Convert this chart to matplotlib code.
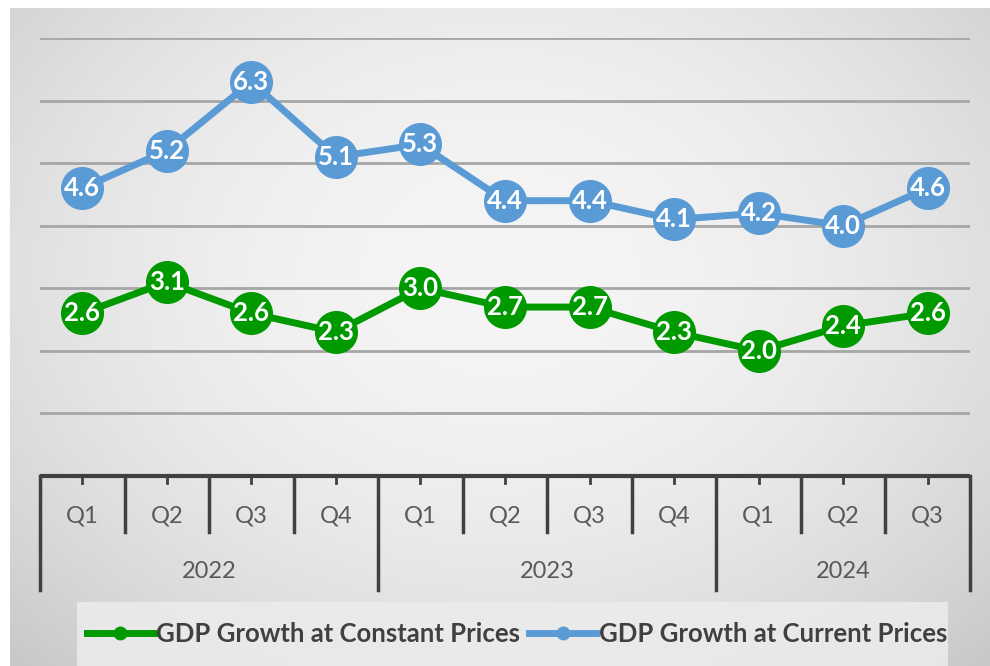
import matplotlib
matplotlib.use("Agg")
import matplotlib.pyplot as plt
import numpy as np
from matplotlib.lines import Line2D
from matplotlib.patches import Rectangle
import matplotlib.transforms as mtransforms

plt.rcParams['font.family'] = ['Lato', 'DejaVu Sans']

# 数据
quarters = ['Q1', 'Q2', 'Q3', 'Q4', 'Q1', 'Q2', 'Q3', 'Q4', 'Q1', 'Q2', 'Q3']
years = ['2022', '2023', '2024']
year_counts = [4, 4, 3]
constant_prices = [2.6, 3.1, 2.6, 2.3, 3.0, 2.7, 2.7, 2.3, 2.0, 2.4, 2.6]
current_prices = [4.6, 5.2, 6.3, 5.1, 5.3, 4.4, 4.4, 4.1, 4.2, 4.0, 4.6]

GREEN = '#009a00'
BLUE = '#5b9bd5'
TEXT = '#595959'
AXIS = '#404040'

W, H = 990, 666
fig = plt.figure(figsize=(W / 100, H / 100), dpi=100)
fig.patch.set_facecolor('white')

# 背景渐变
bg = fig.add_axes([10 / W, 0, 1 - 10 / W, 1 - 8 / H], zorder=-10)
gx, gy = np.meshgrid(np.linspace(-1, 1, 400), np.linspace(-1, 1, 300))
r = np.sqrt((gx / 1.05) ** 2 + ((gy + 0.2) / 1.2) ** 2)
shade = 0.96 - 0.13 * np.clip(r, 0, 1.4) ** 2 / 1.4
bg.imshow(np.dstack([shade] * 3), aspect='auto', extent=[0, 1, 0, 1], origin='upper')
bg.set_axis_off()

# 图例底框
fig.patches.append(Rectangle((77 / W, 0), (948 - 77) / W, (666 - 602) / H,
                             transform=fig.transFigure, facecolor='#ececec',
                             edgecolor='none', alpha=0.85, zorder=-5))

ax = fig.add_axes([40 / W, 1 - 476 / H, 930 / W, 438 / H])
ax.patch.set_alpha(0)
x = np.arange(len(quarters))
ax.set_xlim(-0.5, len(quarters) - 0.5)
ax.set_ylim(0, 7)

for v in range(1, 8):
    ax.axhline(v, color='#a6a6a6', lw=2, zorder=1)

for s in ax.spines.values():
    s.set_visible(False)
ax.set_xticks([])
ax.set_yticks([])

ax.plot(x, constant_prices, '-o', color=GREEN, lw=5, markersize=31, zorder=3,
        markeredgewidth=0)
ax.plot(x, current_prices, '-o', color=BLUE, lw=5, markersize=31, zorder=3,
        markeredgewidth=0)

for xi, v in zip(x, constant_prices):
    ax.text(xi, v, f'{v:.1f}', ha='center', va='center', color='white',
            fontsize=18.5, fontweight='bold', zorder=5)
for xi, v in zip(x, current_prices):
    ax.text(xi, v, f'{v:.1f}', ha='center', va='center', color='white',
            fontsize=18.5, fontweight='bold', zorder=5)

# 分层坐标轴
tr = mtransforms.blended_transform_factory(ax.transData, ax.transAxes)
n = len(quarters)
ax.plot([-0.5, n - 0.5], [0, 0], color=AXIS, lw=3, transform=tr, clip_on=False,
        solid_capstyle='butt')
for xi in x:
    ax.plot([xi, xi], [0, -0.016], color=AXIS, lw=2, transform=tr, clip_on=False)
    ax.text(xi, -0.091, quarters[xi], ha='center', va='center', color=TEXT,
            fontsize=17, transform=tr)

bounds = np.concatenate([[0], np.cumsum(year_counts)]) - 0.5
for i in range(1, n):
    b = i - 0.5
    if b in bounds:
        continue
    ax.plot([b, b], [0, -0.128], color=AXIS, lw=2.5, transform=tr, clip_on=False)
for b in bounds:
    ax.plot([b, b], [0, -0.26], color=AXIS, lw=2.5, transform=tr, clip_on=False)
for i, yr in enumerate(years):
    ax.text((bounds[i] + bounds[i + 1]) / 2, -0.219, yr, ha='center', va='center',
            color=TEXT, fontsize=17, transform=tr)

handles = [Line2D([], [], color=GREEN, lw=5, marker='o', markersize=9),
           Line2D([], [], color=BLUE, lw=5, marker='o', markersize=9)]
leg = fig.legend(handles, ['GDP Growth at Constant Prices', 'GDP Growth at Current Prices'],
                 loc='center', bbox_to_anchor=(517 / W, 1 - 634 / H), ncol=2,
                 frameon=False, handlelength=2.6, handletextpad=0.1,
                 columnspacing=0.35, prop={'size': 18.5, 'weight': 'bold'})
for t in leg.get_texts():
    t.set_color(AXIS)

fig.savefig('out.png', dpi=100)
